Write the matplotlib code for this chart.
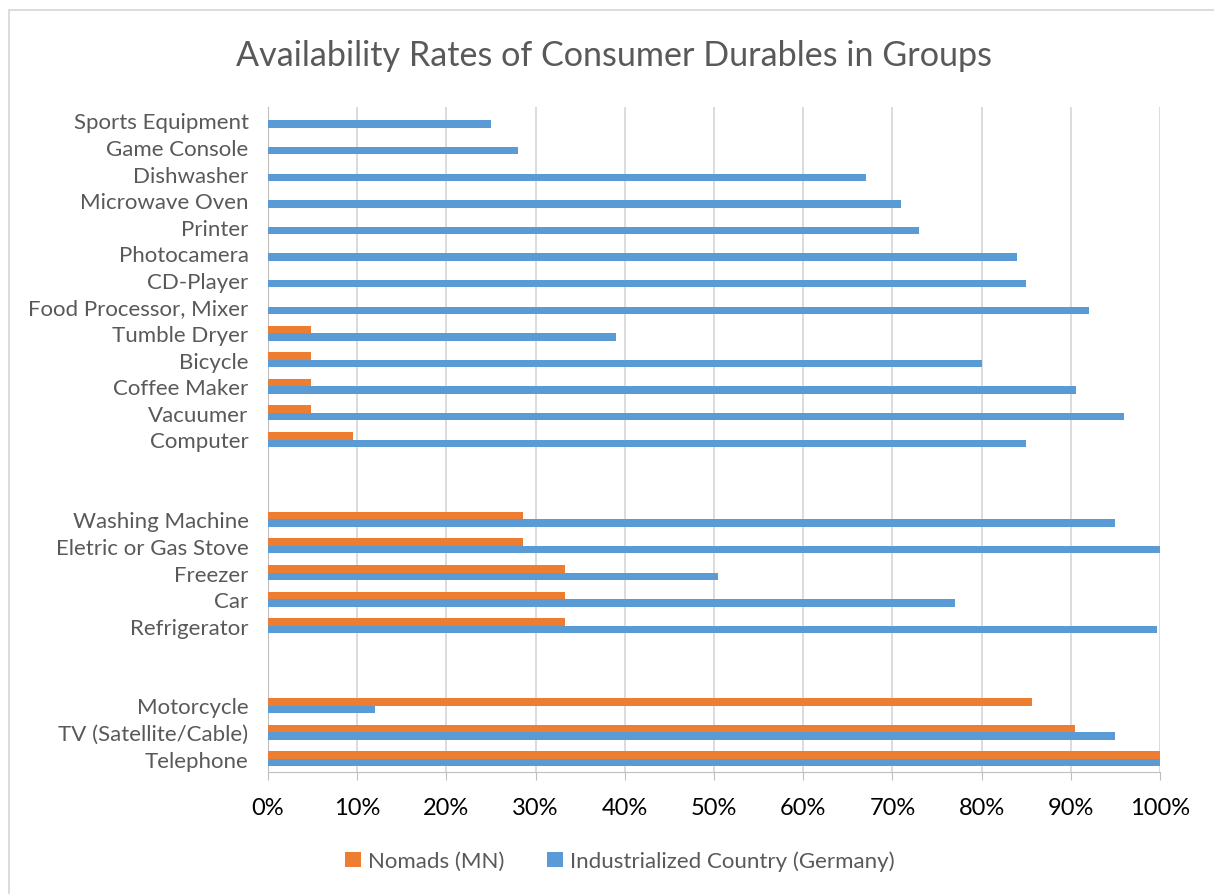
import matplotlib.pyplot as plt
from matplotlib.patches import Rectangle
from matplotlib.ticker import PercentFormatter

plt.rcParams['font.family'] = ['Lato', 'DejaVu Sans']

# bottom to top, blank entries are the gaps between groups
categories = ['Telephone', 'TV (Satellite/Cable)', 'Motorcycle', '', '',
              'Refrigerator', 'Car', 'Freezer', 'Eletric or Gas Stove', 'Washing Machine', '', '',
              'Computer', 'Vacuumer', 'Coffee Maker', 'Bicycle', 'Tumble Dryer',
              'Food Processor, Mixer', 'CD-Player', 'Photocamera', 'Printer',
              'Microwave Oven', 'Dishwasher', 'Game Console', 'Sports Equipment']

nomads = [100, 90.5, 85.7, 0, 0,
          33.3, 33.3, 33.3, 28.6, 28.6, 0, 0,
          9.5, 4.8, 4.8, 4.8, 4.8,
          0, 0, 0, 0, 0, 0, 0, 0]

germany = [100, 95, 12, 0, 0,
           99.7, 77, 50.4, 100, 95, 0, 0,
           85, 96, 90.6, 80, 39,
           92, 85, 84, 73, 71, 67, 28, 25]

orange = '#ED7D31'
blue = '#5B9BD5'
grey_text = '#595959'

fig = plt.figure(figsize=(12.14, 8.95), dpi=100)
ax = fig.add_axes([268/1214, 1 - 773/895, (1160-268)/1214, (773-108)/895])

y = list(range(len(categories)))
h = 0.28
ax.barh([i + h/2 for i in y], nomads, height=h, color=orange, label='Nomads (MN)', zorder=3)
ax.barh([i - h/2 for i in y], germany, height=h, color=blue,
        label='Industrialized Country (Germany)', zorder=3)

ax.set_xlim(0, 100)
ax.set_ylim(-0.5, len(categories) - 0.5)
ax.set_xticks(range(0, 101, 10))
ax.xaxis.set_major_formatter(PercentFormatter(decimals=0))
ax.set_yticks(y)
ax.set_yticklabels(categories, fontsize=16, color=grey_text)
ax.tick_params(axis='y', length=0, pad=14)
ax.tick_params(axis='x', length=6, color='#BFBFBF', labelsize=17, labelcolor='black', pad=12)
ax.grid(axis='x', color='#D9D9D9', linewidth=1.3, zorder=0)

for side in ['top', 'right']:
    ax.spines[side].set_visible(False)
ax.spines['left'].set_color('#BFBFBF')
ax.spines['bottom'].set_color('#BFBFBF')

fig.suptitle('Availability Rates of Consumer Durables in Groups', x=614/1214, y=1 - 40/895,
             fontsize=24.6, color=grey_text, va='top')

fig.legend(loc='center', bbox_to_anchor=(620/1214, 1 - 862/895), ncol=2, frameon=False,
           fontsize=16, labelcolor=grey_text, handlelength=0.7, handleheight=0.7,
           handletextpad=0.35, columnspacing=1.9)

fig.patches.append(Rectangle((9/1214, -0.1), 1.2, 1 - 11/895 + 0.1, transform=fig.transFigure,
                             fill=False, edgecolor='#D9D9D9', linewidth=1.3))

fig.savefig('out.png', dpi=100)
